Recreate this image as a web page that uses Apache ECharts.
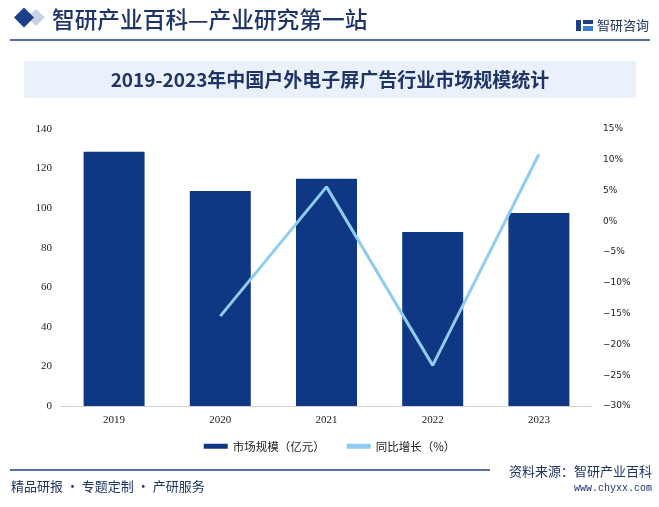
<!DOCTYPE html>
<html><head><meta charset="utf-8">
<script src="https://cdn.jsdelivr.net/npm/echarts@6/dist/echarts.min.js"></script>
<style>html,body{margin:0;padding:0;background:#fff}#c{width:659px;height:507px}</style>
</head><body><div id="c"></div>
<script>
const categories = ['2019','2020','2021','2022','2023'];
const marketSize = [128.5, 108.7, 114.8, 88.0, 97.6];
const growth = [null, -15.4, 5.6, -23.4, 10.9];
const leftTicks = [0,20,40,60,80,100,120,140];
const rightTicks = [-30,-25,-20,-15,-10,-5,0,5,10,15];

const navy = '#0f3784';
const chart = echarts.init(document.getElementById('c'));
chart.setOption({
  animation: false,
  backgroundColor: '#fff',
  grid: {left: 61, right: 67, top: 129, bottom: 101},
  xAxis: {
    type: 'category', data: categories,
    axisLine: {lineStyle: {color: '#d0d0d0'}},
    axisTick: {show: false},
    axisLabel: {color: '#222', fontFamily: 'Liberation Serif', fontSize: 11, margin: 9}
  },
  yAxis: [{
    type: 'value', min: leftTicks[0], max: leftTicks[leftTicks.length-1], interval: 20,
    splitLine: {show: false}, axisLine: {show: false}, axisTick: {show: false},
    axisLabel: {color: '#222', fontFamily: 'Liberation Serif', fontSize: 11, margin: 9}
  }, {
    type: 'value', min: rightTicks[0], max: rightTicks[rightTicks.length-1], interval: 5,
    splitLine: {show: false}, axisLine: {show: false}, axisTick: {show: false},
    axisLabel: {color: '#222', fontFamily: 'DejaVu Sans', fontSize: 9, margin: 11,
      formatter: v => (v < 0 ? '\u2212' + Math.abs(v) : v) + '%'}
  }],
  legend: {
    bottom: 50, left: 'center', itemGap: 22, itemWidth: 24, itemHeight: 5,
    textStyle: {fontFamily: 'Noto Sans CJK SC', fontSize: 11.5, color: '#222'},
    data: [{name: '市场规模（亿元）', icon: 'rect'}, {name: '同比增长（%）', icon: 'rect'}]
  },
  series: [{
    name: '市场规模（亿元）', type: 'bar', data: marketSize, barWidth: 61,
    itemStyle: {color: navy}
  }, {
    name: '同比增长（%）', type: 'line', yAxisIndex: 1, data: growth,
    symbol: 'none', lineStyle: {color: '#8ecdf0', width: 3}, itemStyle: {color: '#8ecdf0'}
  }],
  graphic: [
    {type: 'polygon', shape: {points: [[36,9],[45,17.5],[36,26],[27,17.5]]}, style: {fill: '#c9d3e6'}},
    {type: 'polygon', shape: {points: [[24,7.5],[34,17.5],[24,27.5],[14,17.5]]}, style: {fill: '#1d3f8a'}},
    {type: 'text', x: 52, y: 19, style: {text: '智研产业百科—产业研究第一站', font: '500 22.7px "Noto Sans CJK SC"', fill: '#1f3568', verticalAlign: 'middle'}},
    {type: 'rect', shape: {x: 576, y: 20, width: 5, height: 11}, style: {fill: '#1d3f8a'}},
    {type: 'rect', shape: {x: 583, y: 20, width: 10, height: 4}, style: {fill: '#1d3f8a'}},
    {type: 'rect', shape: {x: 583, y: 26, width: 10, height: 5}, style: {fill: '#3a7fd5'}},
    {type: 'text', x: 597, y: 25, style: {text: '智研咨询', font: '13px "Noto Sans CJK SC"', fill: '#1f3568', verticalAlign: 'middle'}},
    {type: 'line', shape: {x1: 10, y1: 40, x2: 650, y2: 40}, style: {stroke: '#1d3f8a', lineWidth: 1.5}},
    {type: 'rect', shape: {x: 24, y: 61, width: 612, height: 37}, style: {fill: '#eaf1fb'}},
    {type: 'text', x: 330, y: 80, style: {text: '2019-2023年中国户外电子屏广告行业市场规模统计', font: 'bold 19px "Noto Sans CJK SC"', fill: '#1f3568', align: 'center', verticalAlign: 'middle'}},
    {type: 'line', shape: {x1: 10, y1: 470, x2: 490, y2: 470}, style: {stroke: '#1d3f8a', lineWidth: 1.5}},
    {type: 'text', x: 652, y: 471, style: {text: '资料来源：智研产业百科', font: '13px "Noto Sans CJK SC"', fill: '#1f3568', align: 'right', verticalAlign: 'middle'}},
    {type: 'text', x: 652, y: 488, style: {text: 'www.chyxx.com', font: '10px "Liberation Mono"', fill: '#1f3568', align: 'right', verticalAlign: 'middle'}},
    {type: 'text', x: 11, y: 486, style: {text: '精品研报 · 专题定制 · 产研服务', font: '13px "Noto Sans CJK SC"', fill: '#1f3568', verticalAlign: 'middle'}}
  ]
});
</script></body></html>
